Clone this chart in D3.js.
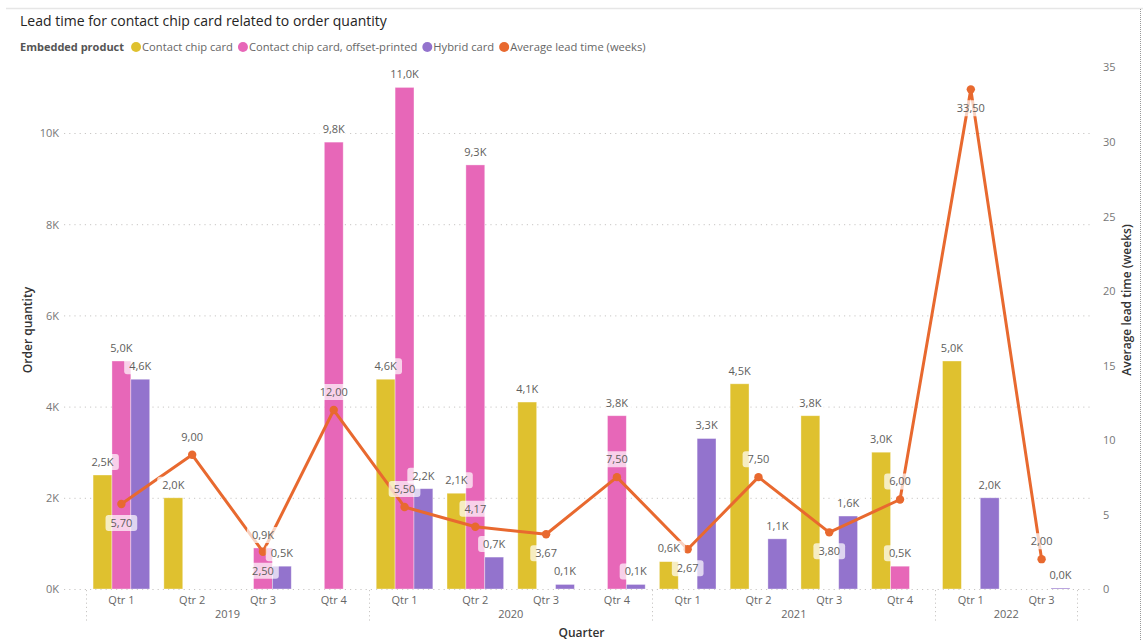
<!DOCTYPE html>
<html>
<head>
<meta charset="utf-8">
<script src="https://cdn.jsdelivr.net/npm/d3@7"></script>
<style>
  body { margin: 0; background: #fff; }
  svg text { font-family: "Open Sans", "Noto Sans", sans-serif; }
</style>
</head>
<body>
<svg id="chart" width="1143" height="641"></svg>
<script>
// ---- data ----
const quarters = ["Qtr 1","Qtr 2","Qtr 3","Qtr 4","Qtr 1","Qtr 2","Qtr 3","Qtr 4","Qtr 1","Qtr 2","Qtr 3","Qtr 4","Qtr 1","Qtr 3"];
const years    = ["2019","2019","2019","2019","2020","2020","2020","2020","2021","2021","2021","2021","2022","2022"];
const contactChipCard = [2500, 2000, null, null, 4600, 2100, 4100, null, 600, 4500, 3800, 3000, 5000, null];
const offsetPrinted   = [5000, null, 900, 9800, 11000, 9300, null, 3800, null, null, null, 500, null, null];
const hybridCard      = [4600, null, 500, null, 2200, 700, 100, 100, 3300, 1100, 1600, null, 2000, 20];
const avgLeadTime     = [5.70, 9.00, 2.50, 12.00, 5.50, 4.17, 3.67, 7.50, 2.67, 7.50, 3.80, 6.00, 33.50, 2.00];
const leftTicks  = [0, 2000, 4000, 6000, 8000, 10000];
const rightTicks = [0, 5, 10, 15, 20, 25, 30, 35];

// which side of the point each lead-time label sits on
const leadLabelSide = ["below","above","below","above","above","above","below","above","below","above","below","above","below","above"];

const seriesNames  = ["Contact chip card", "Contact chip card, offset-printed", "Hybrid card"];
const seriesValues = [contactChipCard, offsetPrinted, hybridCard];
const colors = { "Contact chip card": "#DFC12F", "Contact chip card, offset-printed": "#E767B8", "Hybrid card": "#9373CD", line: "#E8692F" };

const svg = d3.select("#chart");
const W = 1143, H = 641;

// container frame
svg.append("line").attr("x1", 6).attr("x2", W).attr("y1", 8.5).attr("y2", 8.5)
  .attr("stroke", "#e6e6e6").attr("stroke-width", 1.5);
svg.append("line").attr("x1", W - 2.5).attr("x2", W - 2.5).attr("y1", 9).attr("y2", H)
  .attr("stroke", "#999").attr("stroke-dasharray", "1,1");

// ---- title & legend ----
svg.append("text").attr("x", 20).attr("y", 26).text("Lead time for contact chip card related to order quantity")
  .attr("font-size", 14).attr("fill", "#252423");

const legend = svg.append("g").attr("transform", "translate(20,51)");
const lh = legend.append("text").attr("x", 0).attr("y", 0).text("Embedded product")
  .attr("font-size", 11).attr("font-weight", 700).attr("fill", "#555");
let lx = lh.node().getComputedTextLength() + 7;
const legendItems = seriesNames.map(n => ({ name: n, color: colors[n] }))
  .concat([{ name: "Average lead time (weeks)", color: colors.line }]);
legendItems.forEach(it => {
  legend.append("circle").attr("cx", lx + 5).attr("cy", -4).attr("r", 5).attr("fill", it.color);
  const t = legend.append("text").attr("x", lx + 11).attr("y", 0).text(it.name)
    .attr("font-size", 11.2).attr("fill", "#666");
  lx += 11 + t.node().getComputedTextLength() + 5;
});

// ---- scales ----
const x0 = d3.scaleBand().domain(d3.range(quarters.length)).range([86, 1077])
  .paddingInner(0.2).paddingOuter(0.1);
const x1 = d3.scaleBand().domain(seriesNames).range([0, x0.bandwidth()]);
const yL = d3.scaleLinear().domain([0, 10000]).range([589, 133]);
const yR = d3.scaleLinear().domain([0, 35]).range([589, 67]);
const cx = i => x0(i) + x0.bandwidth() / 2;

// ---- gridlines ----
svg.append("g").selectAll("line").data(leftTicks).join("line")
  .attr("x1", 64).attr("x2", 1090).attr("y1", d => yL(d) + 0.5).attr("y2", d => yL(d) + 0.5)
  .attr("stroke", "#c8c6c4").attr("stroke-dasharray", "1.2,4");

// ---- left axis ----
const gL = svg.append("g").attr("transform", "translate(59,0)")
  .call(d3.axisLeft(yL).tickValues(leftTicks).tickSize(0).tickFormat(d => (d / 1000) + "K"));
gL.select(".domain").remove();
gL.selectAll("text").attr("font-size", 11).attr("fill", "#777").attr("x", 0).attr("dy", "0.35em")
  .style("font-family", "'Open Sans', sans-serif");

svg.append("text").attr("transform", "translate(32,330) rotate(-90)").attr("text-anchor", "middle")
  .text("Order quantity").attr("font-size", 12).attr("font-weight", 600).attr("fill", "#333");

// ---- right axis ----
const gR = svg.append("g").attr("transform", "translate(1101,0)")
  .call(d3.axisRight(yR).tickValues(rightTicks).tickSize(0));
gR.select(".domain").remove();
gR.selectAll("text").attr("font-size", 11).attr("fill", "#777").attr("x", 2).attr("dy", "0.35em")
  .style("font-family", "'Open Sans', sans-serif");

svg.append("text").attr("transform", "translate(1131,300) rotate(-90)").attr("text-anchor", "middle")
  .text("Average lead time (weeks)").attr("font-size", 12).attr("font-weight", 600).attr("fill", "#333");

// ---- bottom axis: quarters, years ----
const gB = svg.append("g").attr("transform", "translate(0,589)")
  .call(d3.axisBottom(x0).tickSize(0).tickFormat(i => quarters[i]));
gB.select(".domain").remove();
gB.selectAll("text").attr("font-size", 11).attr("fill", "#666").attr("dy", "1.05em")
  .style("font-family", "'Open Sans', sans-serif");

const step = x0.step();
const yearGroups = d3.groups(d3.range(years.length), i => years[i]);
const sepX = [];
yearGroups.forEach(([yr, idx]) => {
  const a = x0(idx[0]) - step * x0.paddingInner() / 2;
  const b = x0(idx[idx.length - 1]) + x0.bandwidth() + step * x0.paddingInner() / 2;
  sepX.push(a);
  svg.append("text").attr("x", (a + b) / 2).attr("y", 618).attr("text-anchor", "middle")
    .text(yr).attr("font-size", 11).attr("fill", "#666");
});
sepX.push(x0.range()[1]);
svg.append("g").selectAll("line").data(sepX).join("line")
  .attr("x1", d => Math.round(d) + 0.5).attr("x2", d => Math.round(d) + 0.5)
  .attr("y1", 590).attr("y2", 623).attr("stroke", "#c8c6c4").attr("stroke-dasharray", "1.2,3");

svg.append("text").attr("x", (x0.range()[0] + x0.range()[1]) / 2).attr("y", 637).attr("text-anchor", "middle")
  .text("Quarter").attr("font-size", 12).attr("font-weight", 600).attr("fill", "#333");

// ---- bars ----
const barData = [];
seriesNames.forEach((s, k) => seriesValues[k].forEach((v, i) => {
  if (v !== null) barData.push({ s, i, v });
}));
svg.append("g").selectAll("rect").data(barData).join("rect")
  .attr("x", d => x0(d.i) + x1(d.s))
  .attr("width", x1.bandwidth())
  .attr("y", d => Math.min(yL(d.v), 588))
  .attr("height", d => Math.max(1, 589 - yL(d.v)))
  .attr("fill", d => colors[d.s])
  .attr("stroke", "#fff").attr("stroke-opacity", 0.45).attr("stroke-width", 0.8);

// ---- line ----
const line = d3.line().x((d, i) => cx(i)).y(d => yR(d));
svg.append("path").datum(avgLeadTime).attr("d", line).attr("fill", "none")
  .attr("stroke", colors.line).attr("stroke-width", 3).attr("stroke-linejoin", "round");
svg.append("g").selectAll("circle").data(avgLeadTime).join("circle")
  .attr("cx", (d, i) => cx(i)).attr("cy", d => yR(d)).attr("r", 4.2).attr("fill", colors.line);

// ---- data labels (with translucent background) ----
const labelLayer = svg.append("g");
function addLabel(x, y, txt) {
  const g = labelLayer.append("g");
  const r = g.append("rect");
  const t = g.append("text").attr("x", x).attr("y", y).attr("dy", "0.35em").attr("text-anchor", "middle")
    .attr("font-size", 11).attr("fill", "#605E5C").text(txt);
  const bb = t.node().getBBox();
  r.attr("x", bb.x - 5).attr("y", y - 8).attr("width", bb.width + 10).attr("height", 16)
    .attr("rx", 3).attr("fill", "#fff").attr("fill-opacity", 0.7);
}
const fmtK = v => (v / 1000).toFixed(1).replace(".", ",") + "K";
barData.forEach(d => addLabel(x0(d.i) + x1(d.s) + x1.bandwidth() / 2, yL(d.v) - 13, fmtK(d.v)));
avgLeadTime.forEach((v, i) => {
  const off = leadLabelSide[i] === "above" ? -18 : 19;
  addLabel(cx(i), yR(v) + off, v.toFixed(2).replace(".", ","));
});
</script>
</body>
</html>
